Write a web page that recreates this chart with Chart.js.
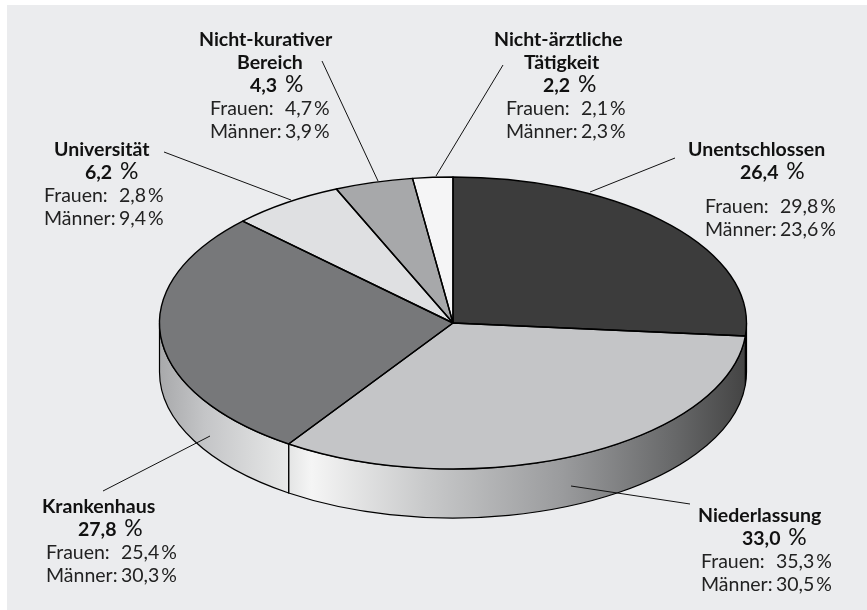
<!DOCTYPE html>
<html>
<head>
<meta charset="utf-8">
<script src="https://cdn.jsdelivr.net/npm/chart.js@4"></script>
<style>
  html, body { margin: 0; padding: 0; background: #fff; }
  #panel { position: absolute; left: 7px; top: 5px; width: 860px; height: 605px; background: #ebecee; }
  #wrap { position: absolute; left: 0; top: 0; width: 867px; height: 610px; }
  .lbl { position: absolute; font: 19.5px/23px Lato, sans-serif; color: #222; white-space: pre; }
  .lbl b { display: block; color: #111; font-weight: 700; }
  .lbl .row { display: block; }
  .lbl .who { display: inline-block; width: 75px; }
  .lbl .sign { margin-left: 2px; }
  .lbl .pct { font-weight: 400; font-size: 23px; line-height: 0; margin-left: 3px; }
</style>
</head>
<body>
<div id="panel"></div>
<div id="wrap"><canvas id="pie"></canvas></div>
<script>
const categories = ["Unentschlossen", "Niederlassung", "Krankenhaus", "Universität", "Nicht-kurativer Bereich", "Nicht-ärztliche Tätigkeit"];
const shares = [26.4, 33.0, 27.8, 6.2, 4.3, 2.2];
const women = ["29,8", "35,3", "25,4", "2,8", "4,7", "2,1"];
const men = ["23,6", "30,5", "30,3", "9,4", "3,9", "2,3"];
const faceColors = ["#3c3c3c", "#c4c5c7", "#77787a", "#dfe0e2", "#a7a8aa", "#f5f5f6"];

// ellipse on the page
const CX = 453, CY = 323, RX = 293.5, RY = 146, DEPTH = 49;

// side wall colour stops per slice, from left end to right end
const wallStops = {
  1: [[0, "#e4e5e5"], [0.05, "#f5f5f5"], [0.3, "#c8c9ca"], [0.6, "#9a9b9d"], [0.85, "#666768"], [1, "#444"]],
  2: [[0, "#a8a9ab"], [0.35, "#c4c5c7"], [1, "#e8e9e9"]]
};

// label boxes: left, top, title lines, title offset, line offset
const labels = [
  { i: 0, x: 705, y: 137, title: ["Unentschlossen"], tx: [-17], px: 35, gap: 11 },
  { i: 1, x: 701, y: 503, title: ["Niederlassung"], tx: [-3], px: 41, gap: 0 },
  { i: 2, x: 46, y: 494, title: ["Krankenhaus"], tx: [-4], px: 32, gap: 0 },
  { i: 3, x: 44, y: 137, title: ["Universität"], tx: [10], px: 41, gap: 0 },
  { i: 4, x: 210, y: 27, title: ["Nicht-kurativer", "Bereich"], tx: [-11, 27], px: 40, gap: 0 },
  { i: 5, x: 506, y: 27, title: ["Nicht-ärztliche", "Tätigkeit"], tx: [-12, 18], px: 37, gap: 0 }
];

// leader lines x1,y1,x2,y2
const leaders = [
  [590, 192, 675, 158],
  [571, 486, 690, 504],
  [210, 436, 103, 491],
  [164, 152, 291, 200],
  [322, 61, 378, 181],
  [503, 65, 436, 176]
];

const panelEl = document.getElementById("wrap");
labels.forEach(l => {
  const d = document.createElement("div");
  d.className = "lbl";
  d.style.left = l.x + "px";
  d.style.top = l.y + "px";
  let html = "";
  l.title.forEach((t, k) => { html += `<b style="margin-left:${l.tx[k]}px">${t}</b>`; });
  html += `<b style="margin-left:${l.px}px;margin-bottom:${l.gap}px">${shares[l.i].toFixed(1).replace(".", ",")} <span class="pct">%</span></b>`;
  html += `<span class="row"><span class="who">Frauen:</span>${women[l.i]}<span class="sign">%</span></span>`;
  html += `<span class="row"><span class="who">Männer:</span>${men[l.i]}<span class="sign">%</span></span>`;
  d.innerHTML = html;
  panelEl.appendChild(d);
});

// move the circular pie onto the page ellipse
function toEllipse(ctx, arc) {
  ctx.translate(CX, CY);
  ctx.scale(RX / arc.outerRadius, RY / arc.outerRadius);
  ctx.translate(-arc.x, -arc.y);
}

const pseudo3d = {
  id: "pseudo3d",
  beforeDatasetsDraw(chart) {
    const ctx = chart.ctx;
    const arcs = chart.getDatasetMeta(0).data;
    // side walls of the front half
    arcs.forEach((arc, i) => {
      let a0 = Math.max(arc.startAngle, 0), a1 = Math.min(arc.endAngle, Math.PI);
      if (a1 <= a0) return;
      const x0 = CX + RX * Math.cos(a1), x1 = CX + RX * Math.cos(a0);
      const g = ctx.createLinearGradient(x0, 0, x1, 0);
      (wallStops[i] || [[0, "#444"], [1, "#444"]]).forEach(s => g.addColorStop(s[0], s[1]));
      ctx.save();
      ctx.beginPath();
      ctx.ellipse(CX, CY, RX, RY, 0, a0, a1);
      ctx.ellipse(CX, CY + DEPTH, RX, RY, 0, a1, a0, true);
      ctx.closePath();
      ctx.fillStyle = g;
      ctx.fill();
      ctx.strokeStyle = "#000";
      ctx.lineWidth = 1.2;
      ctx.stroke();
      ctx.restore();
    });
    ctx.save();
    toEllipse(ctx, arcs[0]);
  },
  afterDatasetsDraw(chart) {
    const ctx = chart.ctx;
    ctx.restore();
    const arcs = chart.getDatasetMeta(0).data;
    // outlines keep an even width, so they are stroked after the squash is undone
    ctx.save();
    ctx.strokeStyle = "#000";
    ctx.lineWidth = 1.4;
    ctx.lineJoin = "round";
    arcs.forEach(arc => {
      ctx.beginPath();
      ctx.moveTo(CX, CY);
      ctx.ellipse(CX, CY, RX, RY, 0, arc.startAngle, arc.endAngle);
      ctx.closePath();
      ctx.stroke();
    });
    ctx.lineWidth = 1;
    ctx.strokeStyle = "#111";
    leaders.forEach(l => {
      ctx.beginPath();
      ctx.moveTo(l[0], l[1]);
      ctx.lineTo(l[2], l[3]);
      ctx.stroke();
    });
    ctx.restore();
  }
};

new Chart(document.getElementById("pie"), {
  type: "pie",
  data: {
    labels: categories,
    datasets: [{ data: shares, backgroundColor: faceColors, borderWidth: 0 }]
  },
  options: {
    responsive: true,
    maintainAspectRatio: false,
    animation: false,
    plugins: { legend: { display: false }, tooltip: { enabled: false } }
  },
  plugins: [pseudo3d]
});
</script>
</body>
</html>
